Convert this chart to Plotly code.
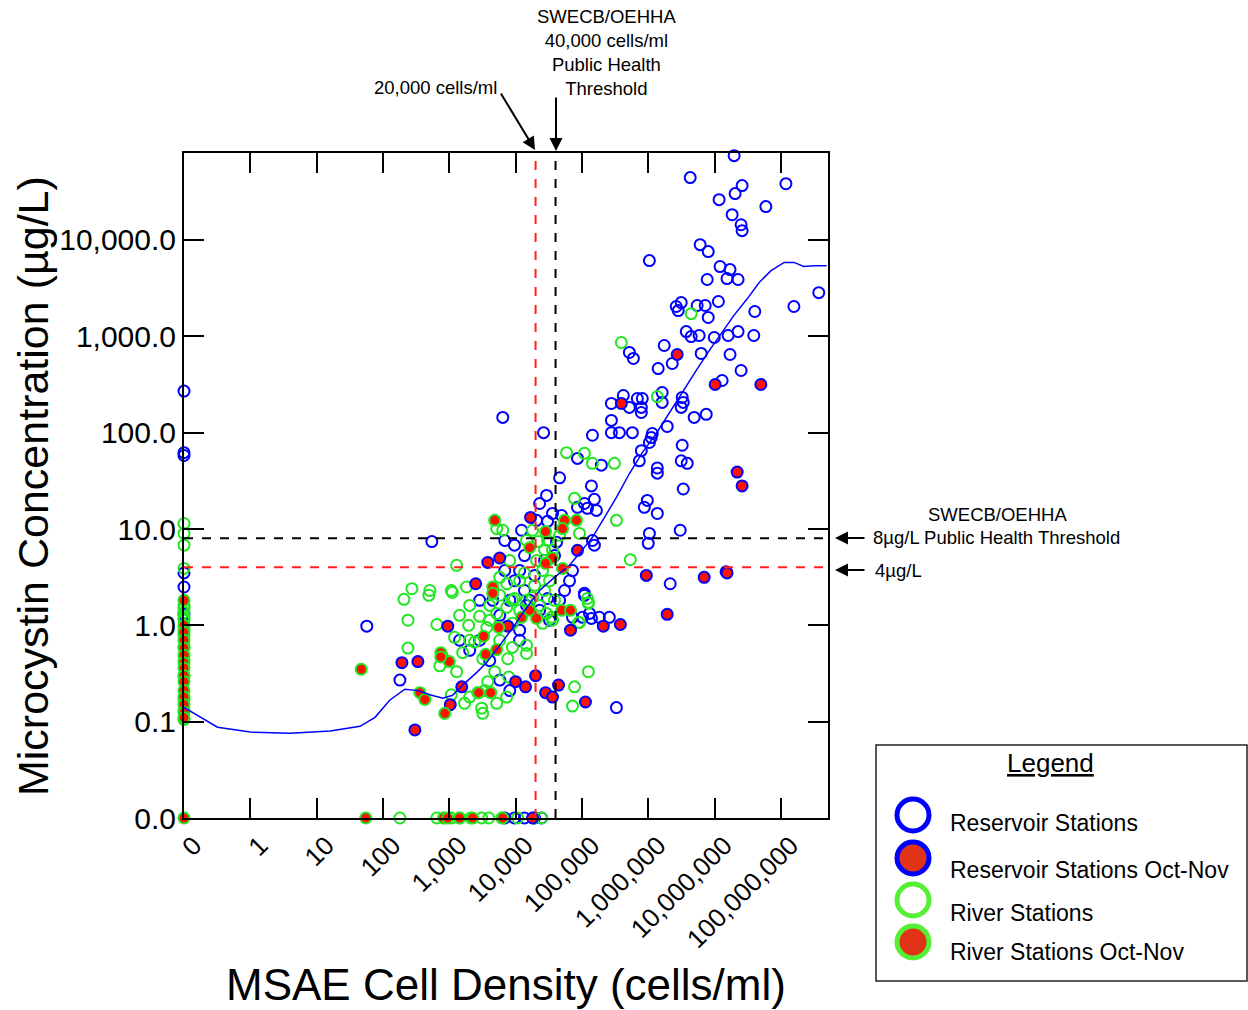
import plotly.graph_objects as go

# ---------------- data (cells/ml , µg/L) ; 0 = below detection ----------------
res_x = [0, 0, 0, 0, 0, 0,
         6400, 26400, 546, 57, 180, 29300, 23000, 46000, 139000, 109000, 121000, 165000, 85700, 154000,
         36000, 49300, 12300, 144000, 154000, 41400, 72100, 11500, 109000, 144000, 278000, 278000, 367000,
         576000, 278000, 421000, 519000, 684000, 813000, 786000, 786000, 1.62e6, 1.62e6, 3.25e6, 3.37e6,
         3.14e6, 4.92e6, 7.48e6, 1.93e6, 1.15e6, 1.11e6, 1.04e6, 786000, 733000, 3.25e6, 3.14e6, 3.87e6,
         1.37e6, 1.37e6, 196000, 85700, 3.37e6, 968000, 872000, 1.37e6, 3.03e6, 1.04e6, 1.0e6, 2.14e6,
         109000, 130000, 183000, 259000, 72100, 102000, 139000, 331000, 8160, 11500, 4520, 8160, 11500,
         1.97e7, 4.29e6, 1.19e8, 2.6e7, 2.04e7, 1.17e7, 5.93e7, 1.84e7, 2.51e7, 2.6e7, 6.06e6, 8.02e6,
         1.04e6, 1.21e7, 1.71e7, 7.74e6, 1.54e7, 2.26e7, 3.72e8, 1.57e8, 1.14e7, 7.22e6, 5.46e6, 2.64e6,
         3.14e6, 2.83e6, 8.02e6, 4.04e7, 3.74e6, 4.44e6, 5.85e6, 9.9e6, 1.6e7, 2.26e7, 3.9e7, 519000,
         596000, 1.74e6, 6.28e6, 1.71e7, 1.41e6, 2.3e6, 2.51e7, 1.3e7,
         6860, 9610, 13600, 16300, 23000, 30300, 19300, 27300, 38600, 13600, 9610, 5760, 2870, 2030,
         4070, 46000, 54700, 32500, 65000, 6860, 2870, 1430, 5760, 20700, 30300, 14600,
         6860, 9610, 13600, 19300, 24600]
res_y = [270, 62, 58, 3.5, 2.5, 1.3,
         144, 100, 7.4, 0.98, 0.27, 22.3, 18.4, 34, 28, 18.4, 16.4, 15.6, 16.8, 20.3,
         14.5, 13.8, 9.7, 7.6, 6.8, 7.3, 3.7, 3.7, 2.15, 94, 134, 100, 100,
         100, 201, 243, 183, 226, 226, 183, 162, 206, 261, 232, 206,
         183, 144, 155, 116, 98, 89, 79, 65, 51, 74, 51, 48,
         43, 38, 46, 54, 26, 19.8, 16.8, 14.5, 9.7, 9.0, 7.1, 2.7,
         2.05, 1.33, 1.21, 1.21, 1.21, 1.21, 1.18, 0.14, 0.21, 0.70, 1.82, 1.82, 0.89,
         75100, 44400, 38400, 36700, 30300, 26200, 22200, 18300, 14400, 12500, 8950, 7580,
         6110, 5300, 4930, 3890, 3980, 3890, 2840, 2040, 2300, 2090, 2090, 2040,
         2240, 1850, 1570, 1810, 1120, 995, 1020, 972, 1020, 1120, 1020, 680,
         589, 803, 664, 648, 463, 522, 442, 348,
         3.7, 2.9, 2.3, 1.82, 1.43, 1.9, 3.3, 4.7, 5.3, 5.3, 6.8, 1.27, 0.70, 0.55,
         0.43, 1.82, 2.3, 1.13, 2.9, 7.6, 1.82, 0.70, 0.27, 12.3, 12.0, 1.61,
         0, 0, 0, 0, 0]

res_on_x = [16800, 85700, 5760, 3800, 2500, 949, 193, 336, 1540, 1035, 10000, 14100, 20000, 28300,
            36000, 44400, 113000, 303, 67300, 210000, 380000, 935000, 1.93e6, 6.97e6, 1.49e7, 1.54e7,
            2.19e7, 2.6e7, 393000, 2.73e6, 1.02e7, 4.98e7, 7610, 18000]
res_on_y = [13.2, 6.0, 5.0, 4.5, 2.7, 0.98, 0.41, 0.42, 0.23, 0.15, 0.26, 0.23, 0.30, 0.20,
            0.18, 0.24, 0.16, 0.082, 0.89, 0.98, 1.02, 3.3, 1.30, 3.15, 3.6, 3.5,
            39, 28, 201, 648, 316, 316, 0.98, 0]

riv_x = [0, 0, 0, 0, 0, 0, 0, 0, 0, 0, 0, 0, 0, 0, 0, 0, 0,
         273, 509, 1072, 1290, 5190, 6400, 77300, 331000, 91900, 8160, 1820, 7350, 5760, 121000,
         58600, 109000, 144000, 309000, 393000, 4.44e6, 1.37e6, 537000, 125000, 91900, 207, 492, 1110,
         238, 649, 1200, 1960, 2870, 238, 1590, 1290, 1072, 1700, 2030, 2680, 3800, 3080, 3190, 5190,
         7350, 7880, 77300, 72100, 125000, 3190, 7610, 8960, 14600, 14600, 2410, 3670, 8960, 5760,
         25500, 34800, 88700, 125000, 4070, 5190, 7350, 8960, 11500, 14600, 18000, 23000, 29300, 36000,
         22200, 27300, 36000, 20700, 25500, 32500, 13600, 19300, 9610, 11500, 27300, 38600, 5760, 2030,
         1430, 2030, 4070, 14600, 18000, 46000, 30300, 720, 3420, 4840,
         180, 649, 826, 1072, 1430, 2100, 3080, 3930, 6180, 10700, 18700, 24600]
riv_y = [11.4, 9.0, 6.8, 3.9, 1.61, 1.36, 1.13, 0.93, 0.43, 0.17, 0.105, 1.5, 1.2, 0.8, 0.6, 0.3, 0.13,
         2.4, 2.3, 2.3, 4.2, 10.1, 9.7, 20.8, 12.3, 9.0, 4.7, 2.5, 2.7, 3.15, 1.9,
         62, 61, 48, 48, 863, 1720, 237, 4.8, 1.73, 1.07, 1.86, 2.05, 2.2,
         1.13, 1.02, 0.75, 1.0, 1.24, 0.58, 0.52, 0.33, 0.19, 0.155, 0.18, 0.20, 0.26, 0.138, 0.122, 0.155,
         0.18, 0.29, 0.23, 0.145, 0.33, 0.45, 0.45, 0.59, 0.51, 0.62, 0.67, 0.95, 1.05, 0.70,
         1.05, 1.21, 1.07, 1.69, 1.61, 1.33, 1.54, 1.82, 1.43, 1.82, 1.95, 1.61, 1.33, 1.13,
         7.4, 6.1, 6.0, 4.7, 3.7, 2.9, 3.5, 2.6, 1.9, 2.9, 2.3, 1.82, 2.05, 1.61,
         1.27, 0.70, 1.13, 7.6, 9.7, 8.6, 7.6, 0.38, 0.21, 0.33,
         0, 0, 0, 0, 0, 0, 0, 0, 0, 0, 0, 0]

riv_on_x = [0, 0, 0, 0, 0, 0, 0, 0, 0, 0, 0, 0, 0, 0, 0,
            47, 4840, 54700, 82800, 51000, 28300, 16300, 36000, 28300, 51000, 4520, 4520, 5190, 3540,
            3300, 5570, 12300, 16300, 20700, 49300, 67300, 2770, 4220, 771, 1000, 360, 428, 855, 745, 745,
            0, 55, 826, 949, 1430, 2250, 6400]
riv_on_y = [1.82, 1.0, 0.85, 0.70, 0.58, 0.49, 0.41, 0.36, 0.30, 0.26, 0.21, 0.18, 0.15, 0.125, 0.11,
            0.35, 12.3, 12.3, 12.3, 10.1, 9.4, 6.4, 5.0, 4.4, 3.9, 2.5, 2.15, 0.56, 0.50,
            0.77, 0.95, 1.21, 1.43, 1.18, 1.43, 1.43, 0.20, 0.20, 0.49, 0.42, 0.20, 0.17, 0.122, 0.52, 0.47,
            0, 0, 0, 0, 0, 0, 0]

trend_x = [0, 0.32, 1, 4, 16, 45, 76, 126, 214, 336, 510, 800, 1120, 1700, 2600, 3650, 5750, 8950,
           13700, 23000, 38500, 65000, 100000, 144000, 219000, 331000, 513000, 813000, 1.32e6, 2.1e6,
           3.2e6, 5.3e6, 8.3e6, 1.26e7, 1.96e7, 3.1e7, 4.7e7, 7.1e7, 1.12e8, 1.58e8, 2.2e8, 3.2e8, 4.9e8]
trend_y = [0.141, 0.0875, 0.078, 0.076, 0.08, 0.0895, 0.111, 0.167, 0.217, 0.21, 0.19, 0.175, 0.188,
           0.25, 0.325, 0.41, 0.62, 0.93, 1.43, 2.3, 3.15, 4.2, 6.0, 8.2, 13.2, 21.3, 37, 62, 98, 163,
           255, 443, 710, 1070, 1650, 2450, 3620, 4800, 5850, 5850, 5300, 5400, 5400]

x_tick_vals = [0, 1, 10, 100, 1000, 1e4, 1e5, 1e6, 1e7, 1e8]
x_tick_text = ["0", "1", "10", "100", "1,000", "10,000", "100,000", "1,000,000", "10,000,000", "100,000,000"]
y_tick_vals = [0, 0.1, 1, 10, 100, 1000, 10000]
y_tick_text = ["0.0", "0.1", "1.0", "10.0", "100.0", "1,000.0", "10,000.0"]

x_thresholds = [20000, 40000]
y_thresholds = [4, 8]

# zero values sit one decade below the first labelled decade
X_ZERO = 0.1
Y_ZERO = 0.01
def fx(v): return [X_ZERO if a == 0 else a for a in v]
def fy(v): return [Y_ZERO if a == 0 else a for a in v]

W, H = 1248, 1010
L, R, T, B = 184, 828, 153, 818
FONT = "Arial, Liberation Sans, sans-serif"
BLUE, GREEN, RED = "#0000ff", "#22e622", "#ff1000"

fig = go.Figure()

def pts(x, y, fill, edge, name):
    fig.add_trace(go.Scatter(x=fx(x), y=fy(y), mode="markers", name=name, cliponaxis=False,
                             marker=dict(size=11, color=fill, line=dict(color=edge, width=2)),
                             showlegend=False))

pts(res_x, res_y, "rgba(0,0,0,0)", BLUE, "Reservoir Stations")
pts(riv_x, riv_y, "rgba(0,0,0,0)", GREEN, "River Stations")
pts(res_on_x, res_on_y, RED, BLUE, "Reservoir Stations Oct-Nov")
pts(riv_on_x, riv_on_y, RED, GREEN, "River Stations Oct-Nov")

fig.add_trace(go.Scatter(x=fx(trend_x), y=trend_y, mode="lines", line=dict(color=BLUE, width=1.5),
                         showlegend=False, cliponaxis=True))

# threshold lines
thr_col = {20000: "#ff2020", 40000: "black", 4: "#ff2020", 8: "black"}
for xv in x_thresholds:
    fig.add_shape(type="line", xref="x", yref="paper", x0=xv, x1=xv,
                  y0=1 - B / H, y1=1 - T / H, line=dict(color=thr_col[xv], width=2, dash="dash"))
for yv in y_thresholds:
    fig.add_shape(type="line", xref="paper", yref="y", y0=yv, y1=yv,
                  x0=L / W, x1=R / W, line=dict(color=thr_col[yv], width=2, dash="dash"))

axis_common = dict(showline=True, linecolor="black", linewidth=2, mirror="allticks", ticks="inside",
                   ticklen=20, tickwidth=2, tickcolor="black", showgrid=False, zeroline=False,
                   automargin=False, tickfont=dict(family=FONT, size=30, color="black"))

fig.update_layout(
    width=W, height=H, margin=dict(l=0, r=0, t=0, b=0, autoexpand=False),
    paper_bgcolor="white", plot_bgcolor="white", showlegend=False,
    xaxis=dict(type="log", domain=[L / W, R / W], range=[-1, 8.71],
               tickvals=fx(x_tick_vals), ticktext=x_tick_text, tickangle=-45, ticklabelshift=10,
               **{**axis_common, "tickfont": dict(family=FONT, size=26, color="black")}),
    yaxis=dict(type="log", domain=[1 - B / H, 1 - T / H], range=[-2, 4.903],
               tickvals=fy(y_tick_vals), ticktext=y_tick_text, **axis_common),
    xaxis2=dict(domain=[875 / W, 1247 / W], range=[875, 1247], visible=False, anchor="y2", automargin=False),
    yaxis2=dict(domain=[1 - 981 / H, 1 - 745 / H], range=[981, 745], visible=False, anchor="x2", automargin=False),
)

def px(x): return x / W
def py(y): return 1 - y / H

ann = []
def text(x, y, s, size, anchor="center"):
    ann.append(dict(xref="paper", yref="paper", x=px(x), y=py(y), text=s, showarrow=False,
                    xanchor=anchor, yanchor="middle", font=dict(family=FONT, size=size, color="black")))

def arrow(hx, hy, tx, ty):
    ann.append(dict(xref="paper", yref="paper", x=px(hx), y=py(hy), ax=tx - hx, ay=ty - hy, text="",
                    showarrow=True, arrowhead=2, arrowsize=1.3, arrowwidth=2, arrowcolor="black"))

# axis titles
text(33, 486, "Microcystin Concentration (µg/L)", 43)
ann[-1]["textangle"] = -90
text(506, 984, "MSAE Cell Density (cells/ml)", 44)

# threshold labels
ann.append(dict(xref="paper", yref="paper", x=px(606), y=py(52), text="SWECB/OEHHA<br>40,000 cells/ml<br>Public Health<br>Threshold",
                showarrow=False, xanchor="center", yanchor="middle", align="center",
                font=dict(family=FONT, size=18.5, color="black")))
text(435, 88, "20,000 cells/ml", 18.5)
arrow(556, 151, 556, 96)
arrow(535, 150, 500, 92)
text(997, 514, "SWECB/OEHHA", 18.5)
text(871, 537, "8µg/L Public Health Threshold", 18.5, "left")
text(873, 570, "4µg/L", 18.5, "left")
arrow(835, 538, 866, 538)
arrow(835, 570, 866, 570)

# legend
fig.add_shape(type="rect", xref="paper", yref="paper", x0=px(876), x1=px(1247), y0=py(981), y1=py(745),
              line=dict(color="#222222", width=1.5))
text(1050, 763, '<span style="text-decoration:underline">Legend</span>', 26)
leg_names = ["Reservoir Stations", "Reservoir Stations Oct-Nov", "River Stations", "River Stations Oct-Nov"]
leg_fill = ["white", "#e03318", "white", "#e03318"]
leg_edge = [BLUE, BLUE, "#55f033", "#55f033"]
leg_my = [815, 858, 900, 942]
leg_ty = [823, 870, 913, 952]
fig.add_trace(go.Scatter(x=[913] * 4, y=leg_my, xaxis="x2", yaxis="y2", mode="markers", showlegend=False,
                         cliponaxis=False,
                         marker=dict(size=32, color=leg_fill, line=dict(color=leg_edge, width=5))))
for nm, ty in zip(leg_names, leg_ty):
    text(948, ty, nm, 23, "left")

fig.update_layout(annotations=ann)
fig.write_html("out.html")
